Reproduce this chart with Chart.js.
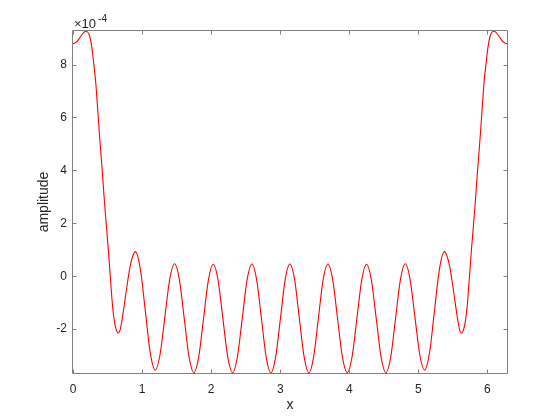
<!DOCTYPE html>
<html>
<head>
<meta charset="utf-8">
<script src="https://cdn.jsdelivr.net/npm/chart.js@4/dist/chart.umd.min.js"></script>
<style>
  html, body { margin: 0; padding: 0; background: #ffffff; }
  canvas { display: block; }
</style>
</head>
<body>
<canvas id="c" width="560" height="420"></canvas>
<script>
// x positions (radians)
const xValues = [
  0, 0.05, 0.10, 0.15, 0.19, 0.24, 0.27, 0.30, 0.33, 0.36, 0.39, 0.42, 0.45, 0.48, 0.51, 0.54,
  0.57, 0.60, 0.63, 0.656, 0.68, 0.71, 0.753, 0.79, 0.826, 0.86, 0.903,
  0.975, 1.047, 1.118, 1.19,
  1.26, 1.33, 1.40, 1.47,
  1.54, 1.61, 1.68, 1.75,
  1.82, 1.89, 1.96, 2.03,
  2.10, 2.17, 2.24, 2.31,
  2.38, 2.45, 2.52, 2.59,
  2.659, 2.728, 2.796, 2.865,
  2.934, 3.003, 3.071, 3.14,
  3.209, 3.277, 3.346, 3.415,
  3.484, 3.552, 3.621, 3.69,
  3.76, 3.83, 3.90, 3.97,
  4.04, 4.11, 4.18, 4.25,
  4.32, 4.39, 4.46, 4.53,
  4.60, 4.67, 4.74, 4.81,
  4.88, 4.95, 5.02, 5.09,
  5.162, 5.233, 5.305, 5.377,
  5.42, 5.454, 5.49, 5.527, 5.57, 5.60, 5.624, 5.65, 5.68, 5.71, 5.74, 5.77, 5.80,
  5.83, 5.86, 5.89, 5.92, 5.95, 5.98, 6.01, 6.04, 6.09, 6.13, 6.18, 6.23, 6.2832
];
// amplitude values in units of 1e-4
const amplitudeE4 = [
  8.79, 8.85, 9.02, 9.20, 9.26, 9.08, 8.70, 8.05, 7.30, 6.20, 5.10, 4.10, 3.00, 2.00, 1.05, 0.00,
  -1.05, -1.72, -2.06, -2.15, -2.05, -1.65, -0.89, -0.22, 0.36, 0.72, 0.93,
  0.27, -1.31, -2.89, -3.55,
  -2.96, -1.54, -0.12, 0.47,
  -0.13, -1.59, -3.05, -3.65,
  -3.05, -1.60, -0.15, 0.45,
  -0.15, -1.60, -3.05, -3.65,
  -3.05, -1.60, -0.14, 0.46,
  -0.14, -1.60, -3.05, -3.65,
  -3.05, -1.60, -0.14, 0.46,
  -0.14, -1.60, -3.05, -3.65,
  -3.05, -1.60, -0.14, 0.46,
  -0.14, -1.60, -3.05, -3.65,
  -3.05, -1.60, -0.15, 0.45,
  -0.15, -1.60, -3.05, -3.65,
  -3.05, -1.59, -0.13, 0.47,
  -0.12, -1.54, -2.96, -3.55,
  -2.89, -1.31, 0.27, 0.93,
  0.72, 0.36, -0.22, -0.89, -1.65, -2.05, -2.15, -2.06, -1.72, -1.05, 0.00, 1.05, 2.00,
  3.00, 4.10, 5.10, 6.20, 7.30, 8.05, 8.70, 9.08, 9.26, 9.20, 9.02, 8.85, 8.79
];
const xTicks = [0, 1, 2, 3, 4, 5, 6];
const yTicks = [-2, 0, 2, 4, 6, 8];
const xRange = [0, 2 * Math.PI];
const yRange = [-3.66, 9.27];
const exponentLabel = ['\u00d710', '-4'];
const xTitle = 'x';
const yTitle = 'amplitude';

const FONT = "'Liberation Sans', Arial, Helvetica, sans-serif";
const TEXT_COLOR = '#262626';
const AXIS_COLOR = '#808080';

const points = xValues.map((x, i) => ({ x: x, y: amplitudeE4[i] }));

const boxPlugin = {
  id: 'matlabBox',
  afterDraw(chart) {
    const { ctx, chartArea: a, scales } = chart;
    const xs = scales.x, ys = scales.y;
    ctx.save();
    ctx.strokeStyle = AXIS_COLOR;
    ctx.lineWidth = 1;
    const L = a.left - 0.5, R = a.right + 0.5, T = a.top - 0.5, B = a.bottom + 0.5;
    ctx.beginPath();
    ctx.rect(L, T, R - L, B - T);
    ctx.stroke();
    const tl = 4;
    ctx.beginPath();
    xTicks.forEach(v => {
      const p = Math.round(xs.getPixelForValue(v)) + 0.5;
      ctx.moveTo(p, B); ctx.lineTo(p, B - tl);
      ctx.moveTo(p, T); ctx.lineTo(p, T + tl);
    });
    yTicks.forEach(v => {
      const p = Math.round(ys.getPixelForValue(v)) + 0.5;
      ctx.moveTo(L, p); ctx.lineTo(L + tl, p);
      ctx.moveTo(R, p); ctx.lineTo(R - tl, p);
    });
    ctx.stroke();
    // exponent label
    ctx.fillStyle = TEXT_COLOR;
    ctx.textBaseline = 'alphabetic';
    ctx.textAlign = 'left';
    ctx.font = '13px ' + FONT;
    const ex = a.left + 1;
    const ey = a.top - 3;
    ctx.fillText(exponentLabel[0], ex, ey);
    const w = ctx.measureText(exponentLabel[0]).width;
    ctx.font = '10px ' + FONT;
    ctx.fillText(exponentLabel[1], ex + w + 2, ey - 6);
    ctx.restore();
  }
};

new Chart(document.getElementById('c'), {
  type: 'line',
  data: {
    datasets: [{
      data: points,
      borderColor: '#ff0000',
      borderWidth: 1.1,
      pointRadius: 0,
      fill: false,
      cubicInterpolationMode: 'monotone'
    }]
  },
  options: {
    responsive: false,
    animation: false,
    devicePixelRatio: 1,
    layout: { padding: { left: 0, right: 53, top: 31, bottom: 0 } },
    plugins: { legend: { display: false }, tooltip: { enabled: false } },
    scales: {
      x: {
        type: 'linear',
        min: xRange[0],
        max: xRange[1],
        grid: { display: false, drawTicks: false },
        border: { display: false },
        afterBuildTicks: s => { s.ticks = xTicks.map(v => ({ value: v })); },
        afterFit: s => { s.height = 47; },
        ticks: {
          color: TEXT_COLOR,
          font: { family: FONT, size: 12 },
          padding: 9,
          maxRotation: 0,
          callback: v => String(v)
        },
        title: {
          display: true,
          text: xTitle,
          color: TEXT_COLOR,
          font: { family: FONT, size: 14 },
          padding: { top: 0, bottom: 6 }
        }
      },
      y: {
        type: 'linear',
        min: yRange[0],
        max: yRange[1],
        grid: { display: false, drawTicks: false },
        border: { display: false },
        afterBuildTicks: s => { s.ticks = yTicks.map(v => ({ value: v })); },
        afterFit: s => { s.width = 73; },
        ticks: {
          color: TEXT_COLOR,
          font: { family: FONT, size: 12 },
          padding: 6,
          callback: v => String(v)
        },
        title: {
          display: true,
          text: yTitle,
          color: TEXT_COLOR,
          font: { family: FONT, size: 14 },
          padding: { top: 36, bottom: 0 }
        }
      }
    }
  },
  plugins: [boxPlugin]
});
</script>
</body>
</html>
